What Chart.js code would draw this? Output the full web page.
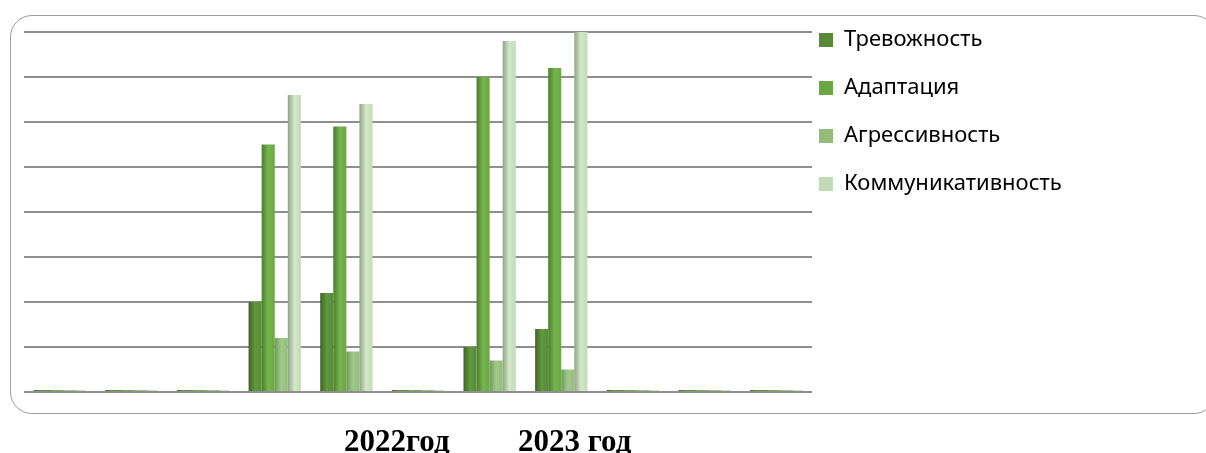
<!DOCTYPE html>
<html>
<head>
<meta charset="utf-8">
<script src="https://cdn.jsdelivr.net/npm/chart.js@4"></script>
<style>
  html, body { margin: 0; padding: 0; background: #fff; width: 1206px; height: 453px; overflow: hidden; }
  #frame { position: absolute; left: 10px; top: 15px; width: 1204px; height: 397px; border: 1px solid #9c9c9c; border-radius: 22px; }
  #chart { position: absolute; left: 0; top: 0; }
  .year { position: absolute; top: 425px; font: bold 31px "Liberation Serif", serif; line-height: 1; color: #000; white-space: nowrap; }
</style>
</head>
<body>
<div id="frame"></div>
<canvas id="chart" width="1206" height="453"></canvas>
<div class="year" style="left:344px">2022год</div>
<div class="year" style="left:518px">2023 год</div>
<script>
// categories have no visible labels in the picture
const categories = ['', '', '', '', '', '', '', '', '', '', ''];
const seriesNames = ['Тревожность', 'Адаптация', 'Агрессивность', 'Коммуникативность'];

const anxiety    = [0, 0, 0, 20, 22, 0, 10, 14, 0, 0, 0];
const adaptation = [0, 0, 0, 55, 59, 0, 70, 72, 0, 0, 0];
const aggression = [0, 0, 0, 12,  9, 0,  7,  5, 0, 0, 0];
const communic   = [0, 0, 0, 66, 64, 0, 78, 80, 0, 0, 0];

const baseColors  = ['#578a37', '#6aa643', '#93be7a', '#c2dbb6'];
const darkColors  = ['#3d6424', '#4a7d2c', '#6f995a', '#8ea585'];
const lightColors = ['#62983f', '#77b64e', '#a2c98b', '#d4e8ca'];

const groupPct = 0.73;

// shaded bar fill, a horizontal gradient across each bar
function barFill(i) {
  return (ctx) => {
    const chart = ctx.chart;
    const x = chart.scales.x;
    if (!x || !chart.chartArea || ctx.dataIndex === undefined) return baseColors[i];
    const slot = (x.right - x.left) / categories.length;
    const barW = slot * groupPct / seriesNames.length;
    const left = x.getPixelForValue(ctx.dataIndex) - slot * groupPct / 2 + ctx.datasetIndex * barW;
    const g = chart.ctx.createLinearGradient(left, 0, left + barW, 0);
    g.addColorStop(0, darkColors[i]);
    g.addColorStop(0.5, lightColors[i]);
    g.addColorStop(1, baseColors[i]);
    return g;
  };
}

const legendPad = 7;
const legendFont = { family: '"Noto Sans", sans-serif', size: 22, lineHeight: (48 - legendPad) / 22 };

// measure legend text so the legend starts right where the plot ends
const mctx = document.createElement('canvas').getContext('2d');
mctx.font = '22px "Noto Sans", sans-serif';
const longest = Math.max(...seriesNames.map(s => mctx.measureText(s).width));
const legendWidth = legendPad + 14 + legendFont.size / 2 + longest + 10;
const plotRight = 812;

const allSeries = [anxiety, adaptation, aggression, communic];

new Chart(document.getElementById('chart'), {
  type: 'bar',
  data: {
    labels: categories,
    datasets: allSeries.map((d, i) => ({
      label: seriesNames[i],
      data: d,
      backgroundColor: barFill(i),
      borderWidth: 0,
      minBarLength: 2,
      categoryPercentage: groupPct,
      barPercentage: 1.0
    }))
  },
  options: {
    responsive: false,
    animation: false,
    layout: { padding: { left: 24, top: 22, bottom: 61, right: 1206 - plotRight - legendWidth } },
    scales: {
      x: { display: false },
      y: {
        min: 0,
        max: 82.2,
        ticks: { display: false, stepSize: 10, includeBounds: false },
        grid: { color: '#8f8f8f', lineWidth: 2, drawTicks: false },
        border: { display: false }
      }
    },
    plugins: {
      tooltip: { enabled: false },
      legend: {
        position: 'right',
        align: 'start',
        labels: {
          boxWidth: 14,
          boxHeight: 14,
          padding: legendPad,
          color: '#000',
          font: legendFont,
          // single-line array text so the row height follows the font lineHeight
          generateLabels: (chart) => Chart.defaults.plugins.legend.labels.generateLabels(chart)
            .map(item => Object.assign(item, { text: [item.text], lineWidth: 0 }))
        }
      }
    }
  }
});
</script>
</body>
</html>
